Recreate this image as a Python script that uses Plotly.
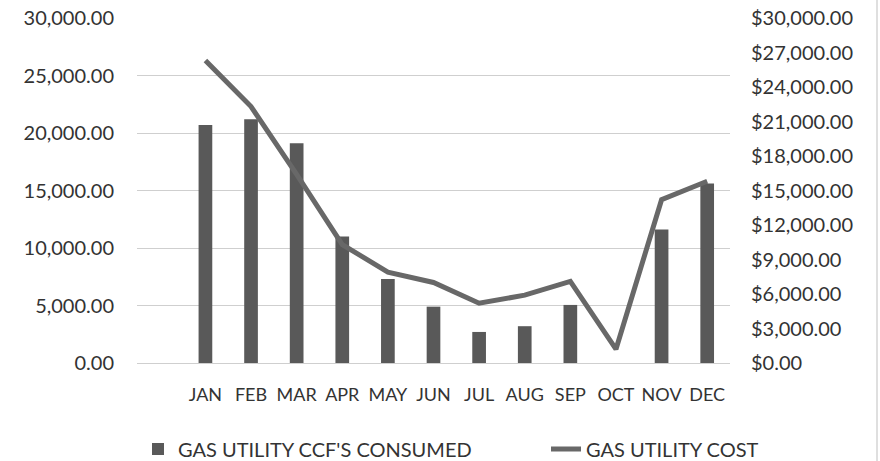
import plotly.graph_objects as go

months = ["JAN", "FEB", "MAR", "APR", "MAY", "JUN", "JUL", "AUG", "SEP", "OCT", "NOV", "DEC"]
ccf_consumed = [20700, 21200, 19100, 11000, 7300, 4900, 2700, 3200, 5050, 0, 11600, 15600]
gas_cost = [26300, 22300, 16400, 10300, 7900, 7000, 5200, 5900, 7100, 1200, 14200, 15800]

left_ticks = [0, 5000, 10000, 15000, 20000, 25000, 30000]
right_ticks = [0, 3000, 6000, 9000, 12000, 15000, 18000, 21000, 24000, 27000, 30000]

FONT = "Lato, Carlito, 'Liberation Sans', sans-serif"
TXT = "#333333"

W, H = 880, 461
L, R, T, B = 137, 150, 18, 98
pw, ph = W - L - R, H - T - B

def px_x(px):
    return (px - L) / pw

def px_y(py):
    return (H - B - py) / ph

def cx(px):
    return px / W

def cy(py):
    return (H - py) / H

fig = go.Figure()
fig.add_trace(go.Bar(
    x=months, y=ccf_consumed, name="GAS UTILITY CCF'S CONSUMED",
    marker=dict(color="#595959", line=dict(width=0)), width=0.3, yaxis="y",
    legend="legend",
))
fig.add_trace(go.Scatter(
    x=months, y=gas_cost, name="GAS UTILITY COST", mode="lines",
    line=dict(color="#686868", width=5), yaxis="y2",
    legend="legend2",
))

legend_common = dict(
    orientation="h", xref="container", yref="container",
    xanchor="left", yanchor="middle",
    font=dict(family=FONT, size=20, color=TXT),
    bgcolor="rgba(0,0,0,0)",
)

fig.update_layout(
    width=W, height=H,
    margin=dict(l=L, r=R, t=T, b=B, pad=0, autoexpand=False),
    paper_bgcolor="white", plot_bgcolor="white",
    font=dict(family=FONT, size=18, color=TXT),
    showlegend=True,
    legend=dict(legend_common, x=cx(138), y=cy(449)),
    legend2=dict(legend_common, x=cx(546), y=cy(449)),
    xaxis=dict(
        type="category", range=[-1.5, 11.5], showgrid=False, showline=False,
        zeroline=False, ticks="", tickangle=0, ticklabelstandoff=19,
        tickfont=dict(family=FONT, size=18, color=TXT),
    ),
    yaxis=dict(
        range=[0, 30000], tickvals=left_ticks, tickformat=",.2f",
        showgrid=True, gridcolor="#cfcfcf", gridwidth=1,
        zeroline=True, zerolinecolor="#cfcfcf", zerolinewidth=1,
        showline=False, ticks="", ticklabelstandoff=22,
        ticklabeloverflow="allow",
        tickfont=dict(family=FONT, size=20, color=TXT),
    ),
    yaxis2=dict(
        range=[0, 30000], tickvals=right_ticks, tickformat="$,.2f",
        overlaying="y", side="right", showgrid=False, zeroline=False,
        showline=False, ticks="", ticklabelstandoff=20,
        ticklabeloverflow="allow",
        tickfont=dict(family=FONT, size=20, color=TXT),
    ),
    shapes=[
        dict(type="line", xref="paper", yref="paper",
             x0=px_x(877), x1=px_x(877), y0=px_y(0), y1=px_y(461),
             line=dict(color="#d4d4d4", width=1.5)),
    ],
)

fig.write_html(
    "out.html",
    config={"displayModeBar": False},
    post_script="document.body.style.margin='0';",
)
